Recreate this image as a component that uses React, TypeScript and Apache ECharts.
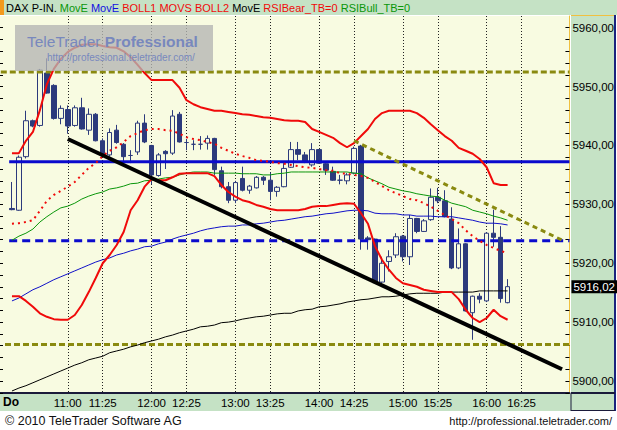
import React, { useEffect, useRef } from "react";
import * as echarts from "echarts";

// ---------- data ----------
const TIMES = [
  "10:20", "10:25", "10:30", "10:35", "10:40", "10:45", "10:50", "10:55",
  "11:00", "11:05", "11:10", "11:15", "11:20", "11:25", "11:30", "11:35", "11:40", "11:45", "11:50", "11:55",
  "12:00", "12:05", "12:10", "12:15", "12:20", "12:25", "12:30", "12:35", "12:40", "12:45", "12:50", "12:55",
  "13:00", "13:05", "13:10", "13:15", "13:20", "13:25", "13:30", "13:35", "13:40", "13:45", "13:50", "13:55",
  "14:00", "14:05", "14:10", "14:15", "14:20", "14:25", "14:30", "14:35", "14:40", "14:45", "14:50", "14:55",
  "15:00", "15:05", "15:10", "15:15", "15:20", "15:25", "15:30", "15:35", "15:40", "15:45", "15:50", "15:55",
  "16:00", "16:05", "16:10", "16:15",
];

const OPEN = [
  5929.3, 5929.0, 5938.1, 5944.2, 5943.4, 5952.3, 5950.2, 5944.6, 5946.1, 5943.4,
  5946.4, 5942.6, 5945.3, 5940.8, 5938.4, 5942.6, 5940.2, 5938.3, 5938.9, 5943.8,
  5940.0, 5934.9, 5939.0, 5938.7, 5945.3, 5940.5, 5940.2, 5940.2, 5940.4, 5941.2,
  5935.7, 5933.0, 5930.7, 5934.4, 5932.4, 5932.8, 5934.6, 5934.1, 5932.2, 5933.0,
  5936.3, 5939.3, 5938.4, 5936.7, 5939.3, 5936.9, 5935.6, 5934.1, 5934.0, 5935.3,
  5939.9, 5924.3, 5924.1, 5916.8, 5920.3, 5921.4, 5924.6, 5921.1, 5927.6, 5925.4,
  5927.4, 5931.2, 5930.6, 5927.5, 5919.2, 5923.3, 5911.6, 5914.4, 5913.6, 5925.1,
  5924.4, 5913.3,
];
const CLOSE = [
  5929.1, 5938.0, 5944.2, 5943.3, 5952.8, 5948.9, 5944.6, 5946.3, 5943.3, 5946.4,
  5942.8, 5945.3, 5940.8, 5938.4, 5942.2, 5940.5, 5938.1, 5938.3, 5943.8, 5940.6,
  5935.0, 5938.4, 5938.6, 5945.0, 5940.6, 5940.5, 5940.2, 5940.2, 5941.2, 5935.9,
  5933.0, 5930.7, 5933.7, 5932.4, 5933.1, 5934.6, 5934.1, 5932.2, 5932.9, 5936.1,
  5939.3, 5938.5, 5937.3, 5939.3, 5937.0, 5935.8, 5934.1, 5934.1, 5935.0, 5939.5,
  5924.1, 5924.0, 5916.7, 5920.0, 5921.1, 5924.5, 5921.1, 5927.6, 5925.4, 5927.2,
  5931.2, 5930.6, 5927.9, 5919.2, 5923.3, 5911.9, 5914.4, 5913.9, 5925.1, 5924.4,
  5914.0, 5916.02,
];
const LOW = [
  5929.0, 5928.9, 5937.8, 5943.1, 5943.2, 5948.8, 5944.4, 5943.6, 5942.0, 5943.2,
  5942.7, 5941.8, 5940.7, 5938.0, 5938.1, 5940.3, 5937.3, 5937.0, 5938.4, 5940.4,
  5933.4, 5934.7, 5936.0, 5938.4, 5940.5, 5939.2, 5939.2, 5939.3, 5939.3, 5935.0,
  5932.7, 5930.2, 5930.2, 5932.2, 5931.8, 5932.7, 5933.3, 5930.7, 5931.3, 5932.9,
  5936.2, 5937.5, 5937.0, 5936.4, 5936.9, 5935.0, 5934.0, 5933.4, 5933.4, 5935.1,
  5922.3, 5922.3, 5916.6, 5916.6, 5918.6, 5920.9, 5920.3, 5919.7, 5925.1, 5925.3,
  5927.2, 5930.2, 5927.8, 5919.0, 5919.0, 5911.8, 5907.0, 5913.2, 5913.4, 5922.8,
  5913.3, 5913.2,
];
const HIGH = [
  5933.8, 5938.3, 5945.9, 5944.4, 5953.0, 5954.8, 5950.4, 5946.8, 5946.8, 5946.8,
  5948.1, 5946.3, 5945.5, 5941.2, 5942.9, 5943.5, 5940.4, 5939.2, 5944.2, 5945.3,
  5940.1, 5938.7, 5939.2, 5946.0, 5945.7, 5941.1, 5940.9, 5941.6, 5941.7, 5941.3,
  5936.4, 5933.8, 5934.0, 5936.4, 5933.3, 5934.8, 5934.8, 5935.4, 5933.1, 5937.0,
  5940.6, 5940.6, 5938.9, 5940.4, 5939.4, 5937.0, 5936.4, 5935.0, 5935.3, 5939.8,
  5940.1, 5924.6, 5924.2, 5921.1, 5922.2, 5925.1, 5924.8, 5928.2, 5927.7, 5927.5,
  5932.7, 5932.8, 5932.4, 5929.5, 5925.9, 5923.4, 5914.5, 5914.9, 5925.3, 5929.1,
  5926.3, 5917.3,
];

const BOLL_UPPER = [
  5938.7, 5938.7, 5940.8, 5942.3, 5946.0, 5950.4, 5953.0, 5954.7, 5955.9, 5956.6,
  5957.1, 5957.2, 5957.2, 5956.9, 5956.7, 5956.6, 5956.0, 5955.0, 5953.7, 5952.3,
  5951.1, 5951.1, 5951.1, 5951.1, 5949.8, 5947.7, 5947.0, 5946.5, 5946.2, 5945.9,
  5945.9, 5945.7, 5945.5, 5945.3, 5945.2, 5945.0, 5944.8, 5944.7, 5944.5, 5944.3,
  5944.2, 5944.2, 5944.0, 5942.8, 5942.3, 5941.8, 5941.3, 5940.4, 5939.7, 5940.4,
  5941.6, 5942.8, 5944.5, 5945.5, 5945.9, 5945.9, 5945.9, 5945.9, 5945.5, 5944.7,
  5943.6, 5942.6, 5941.6, 5940.8, 5939.6, 5939.1, 5938.6, 5937.7, 5936.3, 5933.6,
  5933.3, 5933.3,
];
const BOLL_LOWER = [
  5914.4, 5914.4, 5913.6, 5912.6, 5911.5, 5910.9, 5910.5, 5910.4, 5910.4, 5911.2,
  5912.9, 5915.1, 5917.5, 5920.0, 5921.4, 5923.1, 5925.3, 5929.0, 5930.7, 5933.0,
  5934.3, 5934.1, 5934.1, 5934.6, 5935.2, 5935.3, 5935.3, 5935.3, 5935.3, 5934.8,
  5933.3, 5932.1, 5931.3, 5930.7, 5930.4, 5929.9, 5929.6, 5929.2, 5929.0, 5929.0,
  5929.0, 5929.0, 5929.2, 5929.6, 5929.7, 5929.7, 5929.9, 5930.1, 5930.2, 5930.1,
  5928.5, 5926.7, 5922.9, 5920.6, 5918.9, 5917.5, 5916.6, 5916.3, 5916.0, 5915.5,
  5915.3, 5915.1, 5915.1, 5915.1, 5913.9, 5912.1, 5910.7, 5910.0, 5910.7, 5912.1,
  5911.0, 5910.4,
];
const MOVS_MID = [
  5926.7, 5926.8, 5927.0, 5927.3, 5928.9, 5930.6, 5931.6, 5932.3, 5933.0, 5933.8,
  5935.0, 5936.2, 5937.0, 5938.2, 5939.1, 5939.7, 5940.6, 5941.6, 5942.1, 5942.6,
  5942.8, 5942.8, 5942.6, 5942.5, 5942.0, 5941.4, 5941.1, 5940.9, 5940.6, 5940.3,
  5939.6, 5939.1, 5938.6, 5938.2, 5937.9, 5937.5, 5937.4, 5937.2, 5937.0, 5936.9,
  5936.7, 5936.5, 5936.3, 5936.2, 5936.0, 5935.8, 5935.7, 5935.3, 5935.2, 5935.0,
  5934.8, 5934.5, 5933.8, 5933.1, 5932.4, 5931.9, 5931.4, 5930.9, 5930.7, 5930.2,
  5929.6, 5928.9, 5928.2, 5927.5, 5926.8, 5925.6, 5924.6, 5923.8, 5923.1, 5922.6,
  5922.1, 5921.7,
];
const MA_GREEN = [
  5923.9, 5924.6, 5925.1, 5925.8, 5927.0, 5927.9, 5928.7, 5929.4, 5929.7, 5930.2,
  5930.9, 5931.4, 5931.8, 5932.1, 5932.6, 5932.8, 5933.1, 5933.5, 5933.6, 5934.0,
  5934.1, 5934.3, 5934.5, 5934.6, 5935.0, 5935.3, 5935.5, 5935.5, 5935.5, 5935.3,
  5935.3, 5935.3, 5935.3, 5935.2, 5935.2, 5935.2, 5935.0, 5935.0, 5935.2, 5935.3,
  5935.5, 5935.5, 5935.5, 5935.5, 5935.5, 5935.5, 5935.5, 5935.5, 5935.5, 5935.3,
  5935.2, 5934.5, 5934.0, 5933.5, 5932.9, 5932.6, 5932.3, 5932.1, 5931.8, 5931.6,
  5931.4, 5931.3, 5930.7, 5930.2, 5929.9, 5929.6, 5929.0, 5928.7, 5928.4, 5928.0,
  5927.7, 5927.3,
];
const MA_BLUE = [
  5913.6, 5914.1, 5914.8, 5915.5, 5916.0, 5916.6, 5917.2, 5917.7, 5918.2, 5918.7,
  5919.2, 5919.7, 5920.2, 5920.6, 5920.9, 5921.4, 5921.7, 5922.1, 5922.4, 5922.8,
  5922.9, 5923.3, 5923.6, 5924.1, 5924.5, 5924.8, 5925.1, 5925.5, 5925.8, 5926.0,
  5926.2, 5926.3, 5926.3, 5926.5, 5926.5, 5926.7, 5926.8, 5927.0, 5927.2, 5927.3,
  5927.5, 5927.7, 5927.9, 5928.0, 5928.2, 5928.4, 5928.5, 5928.7, 5928.9, 5929.0,
  5929.0, 5928.9, 5928.5, 5928.4, 5928.4, 5928.4, 5928.2, 5928.2, 5928.0, 5928.0,
  5928.0, 5927.9, 5927.9, 5927.9, 5927.7, 5927.5, 5927.3, 5927.0, 5926.8, 5926.8,
  5926.7, 5926.5,
];
const MA_BLACK = [
  5898.3, 5898.8, 5899.2, 5899.7, 5900.2, 5900.7, 5901.2, 5901.7, 5902.2, 5902.7,
  5903.1, 5903.6, 5903.9, 5904.2, 5904.8, 5905.1, 5905.4, 5905.8, 5906.1, 5906.5,
  5906.8, 5907.1, 5907.5, 5907.8, 5908.2, 5908.5, 5908.8, 5909.2, 5909.3, 5909.5,
  5909.9, 5910.0, 5910.2, 5910.5, 5910.7, 5910.9, 5911.0, 5911.2, 5911.4, 5911.5,
  5911.5, 5911.9, 5912.1, 5912.2, 5912.6, 5912.7, 5912.9, 5913.1, 5913.4, 5913.6,
  5913.8, 5913.9, 5914.1, 5914.3, 5914.3, 5914.4, 5914.6, 5914.8, 5914.9, 5914.9,
  5914.9, 5914.9, 5915.1, 5915.1, 5915.1, 5915.1, 5915.1, 5915.3, 5915.3, 5915.3,
  5915.3, 5915.3,
];

// horizontal levels: [value, start time]
const LEVEL_OLIVE_TOP = [5952.5, "10:12"];
const LEVEL_BLUE_SOLID = [5937.25, "10:18"];
const LEVEL_BLUE_DASHED = [5923.8, "10:18"];
const LEVEL_OLIVE_BOTTOM = [5906.2, "10:15"];
// trend lines: [time, value] pairs
const TREND_SUPPORT = [["11:00", 5941.1], ["16:54", 5902.0]];
const TREND_RESIST = [["14:25", 5940.8], ["16:56", 5923.7]];
const LAST_PRICE = 5916.02;

const X_TICKS = ["11:00", "11:25", "12:00", "12:25", "13:00", "13:25", "14:00", "14:25", "15:00", "15:25", "16:00", "16:25"];
const Y_TICKS = [5900, 5910, 5920, 5930, 5940, 5950, 5960];

// ---------- helpers ----------
const toMin = (t: string) => {
  const [h, m] = t.split(":").map(Number);
  return h * 60 + m;
};
const fmtTime = (v: number) => {
  const h = Math.floor(v / 60 + 1e-6);
  const m = Math.round(v - h * 60);
  return `${h}:${String(m).padStart(2, "0")}`;
};
const fmtPrice = (v: number) => v.toFixed(2).replace(".", ",");

const X_MIN = 611.43;
const X_MAX = 1019.29;
const Y_MIN = 5897.96;
const Y_MAX = 5961.99;
const MINOR_TICKS: number[] = [];
for (let v = 5898; v <= 5962; v += 2) MINOR_TICKS.push(v);

const FONT = "'Liberation Sans', Arial, sans-serif";
const BG = "#F8FBE1";
const BAR = "#C5E2C5";
const NAVY = "#2C3A7C";
const RED = "#F00A0A";
const GREEN = "#0A960A";
const BLUE = "#1010C8";
const OLIVE = "#8A8A10";

export default function App() {
  const ref = useRef<HTMLDivElement>(null);

  useEffect(() => {
    if (!ref.current) return;
    const chart = echarts.init(ref.current, undefined, { renderer: "svg" });

    const xs = TIMES.map(toMin);
    const candles = xs.map((x, i) => [x, OPEN[i], CLOSE[i], LOW[i], HIGH[i]]);
    const line = (arr: number[]) => xs.map((x, i) => [x, arr[i]]);
    const level = (lv: any[], color: string, type: any, width: number) => ({
      type: "line",
      data: [[toMin(lv[1]), lv[0]], [X_MAX, lv[0]]],
      symbol: "none",
      silent: true,
      z: 4,
      lineStyle: { color, type, width },
    });
    const maLine = (name: string, arr: number[], color: string, width: number, type: any = "solid") => ({
      type: "line",
      name,
      data: line(arr),
      symbol: "none",
      silent: true,
      z: 5,
      lineStyle: { color, width, type },
    });

    const option: any = {
      animation: false,
      grid: { left: 0, right: 46, top: 16, bottom: 37, show: true, backgroundColor: BG, borderWidth: 0 },
      xAxis: {
        type: "value",
        min: X_MIN,
        max: X_MAX,
        axisLine: { show: true, lineStyle: { color: "#1A1A3A", width: 2 } },
        axisTick: { show: false, customValues: X_TICKS.map(toMin) },
        axisLabel: {
          customValues: X_TICKS.map(toMin),
          formatter: (v: number) => fmtTime(v),
          color: "#000",
          fontSize: 11.5,
          fontFamily: FONT,
          margin: 4,
        },
        splitLine: { show: true, lineStyle: { color: "#222", type: [1, 2], width: 1 } },
      },
      yAxis: [
        {
          type: "value",
          position: "right",
          min: Y_MIN,
          max: Y_MAX,
          axisLine: { show: true, lineStyle: { color: "#F0C040", width: 1 } },
          axisTick: { show: true, inside: true, length: 4, customValues: MINOR_TICKS, lineStyle: { color: "#000" } },
          axisLabel: {
            customValues: Y_TICKS,
            formatter: (v: number) => fmtPrice(v),
            color: "#000",
            fontSize: 11.5,
            fontFamily: FONT,
            margin: 3,
          },
          splitLine: { show: false },
        },
        {
          type: "value",
          position: "left",
          min: Y_MIN,
          max: Y_MAX,
          axisLine: { show: false },
          axisTick: { show: true, inside: true, length: 3, customValues: MINOR_TICKS, lineStyle: { color: "#000" } },
          axisLabel: { show: false },
          splitLine: { show: false },
        },
      ],
      series: [
        {
          type: "candlestick",
          name: "DAX P-IN.",
          data: candles,
          barWidth: 5,
          z: 3,
          silent: true,
          itemStyle: { color: BG, color0: NAVY, borderColor: NAVY, borderColor0: NAVY, borderWidth: 1 },
          markLine: {
            silent: true,
            symbol: ["none", "none"],
            lineStyle: { color: "transparent", width: 0 },
            label: {
              show: true,
              position: "end",
              formatter: () => fmtPrice(LAST_PRICE),
              color: "#fff",
              backgroundColor: "#000",
              padding: [1, 2, 0, 2],
              fontSize: 11.5,
              fontFamily: FONT,
              distance: 2,
            },
            data: [{ yAxis: LAST_PRICE }],
          },
        },
        maLine("MovE", MA_GREEN, GREEN, 1),
        maLine("MovE", MA_BLUE, BLUE, 1),
        maLine("MovE", MA_BLACK, "#000", 1),
        level(LEVEL_OLIVE_TOP, OLIVE, [6, 3], 3),
        level(LEVEL_BLUE_SOLID, "#0A0ACD", "solid", 3),
        level(LEVEL_BLUE_DASHED, "#0A0ACD", [8, 5], 3),
        level(LEVEL_OLIVE_BOTTOM, OLIVE, [6, 3], 3),
        maLine("BOLL1", BOLL_UPPER, RED, 2),
        maLine("MOVS", MOVS_MID, RED, 2, [2, 4]),
        maLine("BOLL2", BOLL_LOWER, RED, 2),
        {
          type: "line",
          data: TREND_RESIST.map((p: any) => [toMin(p[0]), p[1]]),
          symbol: "none",
          silent: true,
          z: 6,
          lineStyle: { color: OLIVE, width: 3, type: [5, 4] },
        },
        {
          type: "line",
          data: TREND_SUPPORT.map((p: any) => [toMin(p[0]), p[1]]),
          symbol: "none",
          silent: true,
          z: 7,
          lineStyle: { color: "#000", width: 4 },
        },
      ],
      graphic: [
        { type: "rect", z: 0, shape: { x: 0, y: 0, width: 617, height: 15 }, style: { fill: BAR } },
        { type: "rect", z: 0, shape: { x: 0, y: 0, width: 4, height: 15 }, style: { fill: "#F39A1E" } },
        {
          type: "text",
          z: 10,
          x: 6,
          y: 8,
          style: {
            text: "{k|DAX P-IN.} {g|MovE} {b|MovE} {r|BOLL1 MOVS BOLL2} {k|MovE} {r|RSIBear_TB=0} {g|RSIBull_TB=0}",
            verticalAlign: "middle",
            font: `11px ${FONT}`,
            rich: {
              k: { fill: "#000", fontSize: 11, fontFamily: FONT },
              g: { fill: GREEN, fontSize: 11, fontFamily: FONT },
              b: { fill: "#1010E0", fontSize: 11, fontFamily: FONT },
              r: { fill: RED, fontSize: 11, fontFamily: FONT },
            },
          },
        },
        { type: "rect", z: 0, shape: { x: 571, y: 15, width: 44, height: 396 }, style: { fill: BAR } },
        { type: "line", z: 1, shape: { x1: 571, y1: 15.5, x2: 615, y2: 15.5 }, style: { stroke: "#F0C040", lineWidth: 1 } },
        { type: "line", z: 1, shape: { x1: 615, y1: 15, x2: 615, y2: 411 }, style: { stroke: "#1A237E", lineWidth: 2 } },
        { type: "rect", z: 0, shape: { x: 0, y: 394, width: 571, height: 17 }, style: { fill: BAR } },
        { type: "line", z: 1, shape: { x1: 571, y1: 393, x2: 615, y2: 393 }, style: { stroke: "#1A1A3A", lineWidth: 2 } },
        { type: "line", z: 1, shape: { x1: 571, y1: 393, x2: 571, y2: 411 }, style: { stroke: "#1A1A3A", lineWidth: 1 } },
        { type: "line", z: 1, shape: { x1: 571, y1: 410.5, x2: 615, y2: 410.5 }, style: { stroke: "#1A1A3A", lineWidth: 1 } },
        {
          type: "text",
          z: 10,
          x: 3,
          y: 402,
          style: { text: "Do", font: `bold 12px ${FONT}`, fill: "#000", verticalAlign: "middle" },
        },
        {
          type: "text",
          z: 10,
          x: 5,
          y: 421,
          style: { text: "© 2010 TeleTrader Software AG", font: `12.5px ${FONT}`, fill: "#111", verticalAlign: "middle" },
        },
        {
          type: "text",
          z: 10,
          x: 612,
          y: 421,
          style: { text: "http://professional.teletrader.com/", font: `11px ${FONT}`, fill: "#111", align: "right", verticalAlign: "middle" },
        },
        {
          type: "group",
          z: 100,
          children: [
            { type: "rect", z: 100, shape: { x: 15, y: 25, width: 198, height: 46 }, style: { fill: "rgba(180,181,178,0.78)" } },
            {
              type: "text",
              z: 101,
              x: 27,
              y: 41,
              style: {
                text: "{n|TeleTrader }{b|Professional}",
                verticalAlign: "middle",
                rich: {
                  n: { fill: "#7888BD", fontSize: 15.5, fontFamily: FONT },
                  b: { fill: "#7888BD", fontSize: 15.5, fontFamily: FONT, fontWeight: "bold" },
                },
              },
            },
            {
              type: "text",
              z: 101,
              x: 47,
              y: 57,
              style: { text: "http://professional.teletrader.com/", font: `10px ${FONT}`, fill: "#7888BD", verticalAlign: "middle" },
            },
          ],
        },
      ],
    };

    chart.setOption(option);
    return () => chart.dispose();
  }, []);

  return (
    <div
      ref={ref}
      style={{ position: "absolute", left: 0, top: 0, width: 617, height: 430, background: "#fff" }}
    />
  );
}
